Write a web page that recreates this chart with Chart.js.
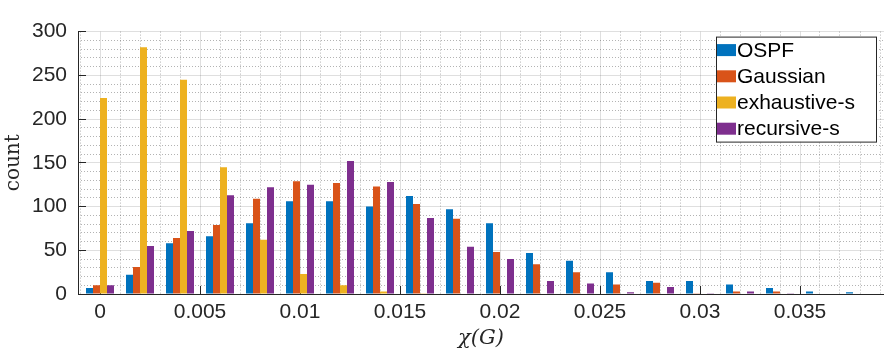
<!DOCTYPE html>
<html>
<head>
<meta charset="utf-8">
<script src="https://cdn.jsdelivr.net/npm/chart.js@4/dist/chart.umd.min.js"></script>
<style>
  body { margin: 0; background: #fff; }
  #wrap { width: 884px; height: 356px; }
</style>
</head>
<body>
<div id="wrap"><canvas id="grafico-chi" width="884" height="356"></canvas></div>
<script>
// histogram bins (centre of each bin) and counts per method
const bins = [0, 0.002, 0.004, 0.006, 0.008, 0.010, 0.012, 0.014, 0.016, 0.018,
              0.020, 0.022, 0.024, 0.026, 0.028, 0.030, 0.032, 0.034, 0.036, 0.038];
const ospf       = [7, 22, 58, 66, 81, 106, 106, 100, 112, 97, 81, 47, 38, 25, 15, 15, 11, 7, 3, 2];
const gaussian   = [10, 31, 64, 79, 109, 129, 127, 123, 103, 86, 48, 34, 25, 11, 13, 1, 3, 3, 0, 0];
const exhaustive = [224, 282, 245, 145, 62, 23, 10, 3, 1, 0, 0, 0, 0, 0, 0, 0, 0, 0, 0, 0];
const recursive  = [10, 55, 72, 113, 122, 125, 152, 128, 87, 54, 40, 15, 12, 2, 8, 1, 3, 1, 0, 0];

const seriesNames = ['OSPF', 'Gaussian', 'exhaustive-s', 'recursive-s'];
const colores = ['#0072BD', '#D95319', '#EDB120', '#7E2F8E'];

const xTicks = [0, 0.005, 0.01, 0.015, 0.02, 0.025, 0.03, 0.035];
const xTickLabels = ['0', '0.005', '0.01', '0.015', '0.02', '0.025', '0.03', '0.035'];
const yTicks = [0, 50, 100, 150, 200, 250, 300];
const yTickLabels = ['0', '50', '100', '150', '200', '250', '300'];

Chart.defaults.font.family = '"Liberation Sans", Arial, sans-serif';
Chart.defaults.font.size = 21;
Chart.defaults.color = '#262626';

const axisColor = '#262626';
const majorGrid = 'rgba(38,38,38,0.15)';
const minorGrid = 'rgba(38,38,38,0.35)';

const isMultiple = (v, step) => Math.abs(v / step - Math.round(v / step)) < 1e-6;

// legend drawn as a boxed list in the top right corner, like matlab
const legendBox = {
    id: 'legendBox',
    afterDraw(chart) {
        const {ctx, chartArea} = chart;
        const w = 160, h = 105;
        const x = chartArea.right - 8 - w;
        const y = chartArea.top + 5;
        ctx.save();
        ctx.fillStyle = '#fff';
        ctx.fillRect(x, y, w, h);
        ctx.strokeStyle = axisColor;
        ctx.lineWidth = 1;
        ctx.strokeRect(x + 0.5, y + 0.5, w, h);
        ctx.font = '21px "Liberation Sans", Arial, sans-serif';
        ctx.textBaseline = 'middle';
        chart.data.datasets.forEach((ds, i) => {
            const cy = y + 13.5 + i * 26.2;
            ctx.fillStyle = ds.backgroundColor;
            ctx.fillRect(x + 1, cy - 6, 19, 12);
            ctx.fillStyle = '#000';
            ctx.fillText(ds.label, x + 21, cy + 1);
        });
        ctx.restore();
    }
};

const datasets = [ospf, gaussian, exhaustive, recursive].map((serie, i) => ({
    label: seriesNames[i],
    data: serie.map((v, j) => ({x: bins[j], y: v})),
    backgroundColor: colores[i],
    borderWidth: 0,
    categoryPercentage: 0.7,
    barPercentage: 1.0,
}));

const ctx = document.getElementById('grafico-chi').getContext('2d');
new Chart(ctx, {
    type: 'bar',
    data: { datasets: datasets },
    options: {
        responsive: false,
        animation: false,
        layout: { padding: { top: 14, right: 0, bottom: 0, left: 0 } },
        plugins: {
            legend: { display: false },
            tooltip: { enabled: false },
        },
        scales: {
            x: {
                type: 'linear',
                position: 'bottom',
                min: -0.0011,
                max: 0.0392,
                offset: false,
                afterBuildTicks: s => { s.ticks = xTicks.map(v => ({value: v})); },
                afterFit: s => { s.height = 62; },
                grid: { color: majorGrid, offset: false, tickLength: -8, tickColor: axisColor, tickWidth: 1 },
                border: { color: axisColor, width: 1, z: 1 },
                ticks: {
                    padding: 14,
                    autoSkip: false,
                    maxRotation: 0,
                    callback: v => xTickLabels[xTicks.indexOf(v)] ?? '',
                },
                title: {
                    display: true,
                    text: 'χ(G)',
                    font: { family: '"DejaVu Serif", serif', style: 'italic', size: 21 },
                    padding: { top: 0, bottom: 5 },
                },
            },
            xMinor: {
                type: 'linear',
                position: 'bottom',
                min: -0.0011,
                max: 0.0392,
                offset: false,
                grid: {
                    color: c => isMultiple(c.tick.value, 0.005) ? 'rgba(0,0,0,0)' : minorGrid,
                    drawTicks: false,
                    offset: false,
                },
                border: { display: false, dash: [1, 2] },
                ticks: { display: false, stepSize: 0.001, includeBounds: false, maxTicksLimit: 1000 },
            },
            y: {
                type: 'linear',
                position: 'left',
                min: 0,
                max: 300,
                afterBuildTicks: s => { s.ticks = yTicks.map(v => ({value: v})); },
                afterFit: s => { s.width = 78; },
                grid: { color: majorGrid, tickLength: -8, tickColor: axisColor, tickWidth: 1 },
                border: { color: axisColor, width: 1, z: 1 },
                ticks: {
                    padding: 19,
                    autoSkip: false,
                    callback: v => yTickLabels[yTicks.indexOf(v)] ?? '',
                },
                title: {
                    display: true,
                    text: 'count',
                    font: { family: '"DejaVu Serif", serif', size: 20 },
                    padding: { top: 2, bottom: 0 },
                },
            },
            yMinor: {
                type: 'linear',
                position: 'left',
                min: 0,
                max: 300,
                grid: {
                    color: c => isMultiple(c.tick.value, 50) ? 'rgba(0,0,0,0)' : minorGrid,
                    drawTicks: false,
                },
                border: { display: false, dash: [1, 2] },
                ticks: { display: false, stepSize: 10, includeBounds: false, maxTicksLimit: 1000 },
            },
        },
    },
    plugins: [legendBox],
});
</script>
</body>
</html>
